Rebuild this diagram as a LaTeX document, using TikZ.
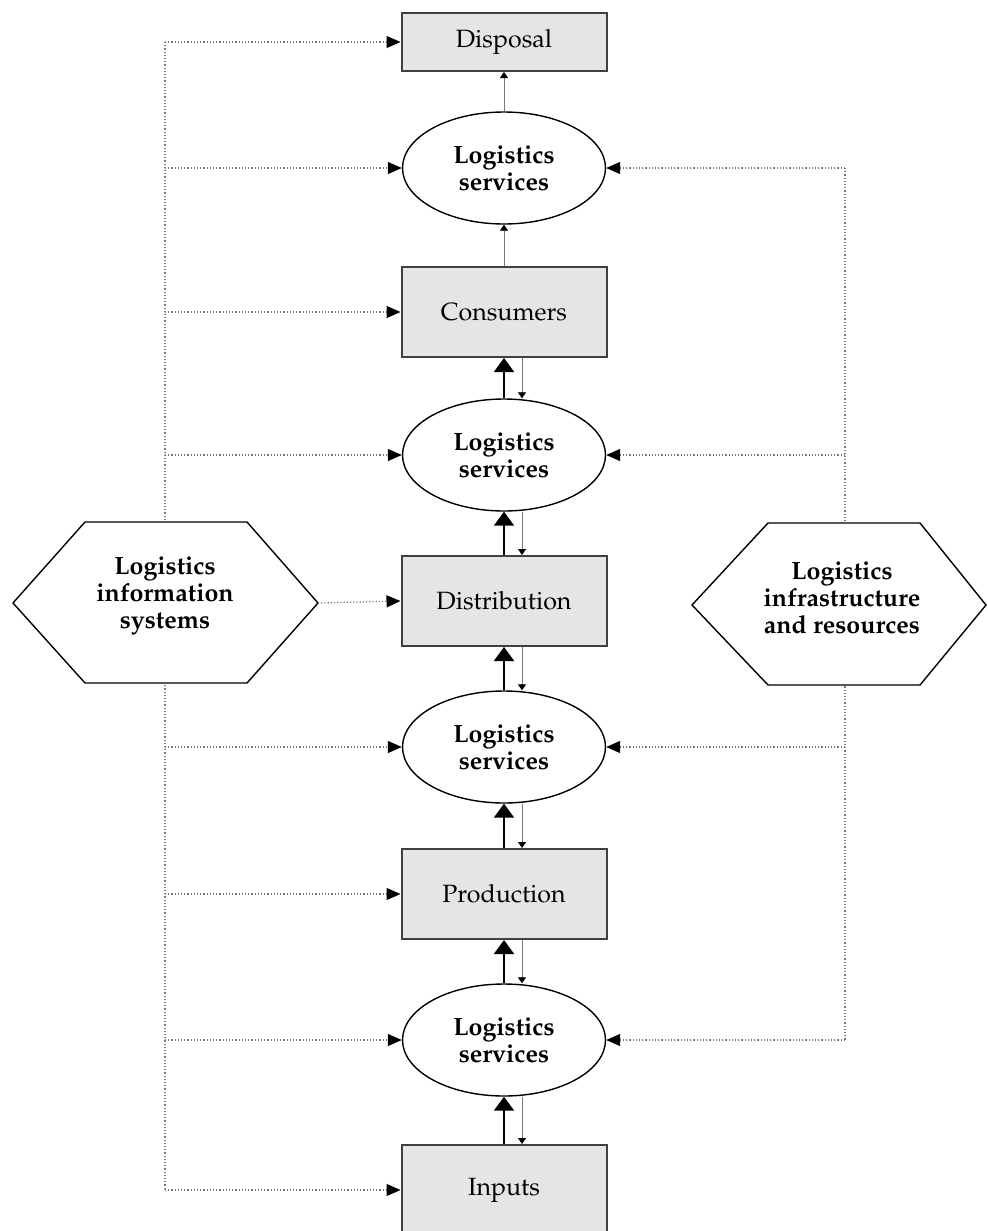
\documentclass[tikz,border=0pt]{standalone}
\usepackage[T1]{fontenc}
\renewcommand{\rmdefault}{ppl}
\usepackage{tikz}
\usetikzlibrary{shapes.geometric,arrows.meta}
\definecolor{boxgray}{RGB}{229,229,229}
\definecolor{dotgray}{RGB}{120,120,120}

\begin{document}
\begin{tikzpicture}[x=0.5pt,y=-0.5pt,
  stage/.style={draw=black!75,line width=1pt,fill=boxgray,minimum width=102.5pt,minimum height=45pt,font=\fontsize{12.5}{14}\selectfont},
  svc/.style={ellipse,draw,line width=0.7pt,fill=white,minimum width=101.5pt,minimum height=56pt,inner sep=0pt,align=center,font=\fontsize{12.5}{13.5}\selectfont\bfseries},
  hexa/.style={draw,line width=0.7pt,fill=white},
  hexatext/.style={align=center,font=\fontsize{12.5}{13.5}\selectfont\bfseries},
  link/.style={dotgray,densely dotted,line width=0.6pt,-{Triangle[color=black,length=7pt,width=6pt]}},
  flowup/.style={line width=1pt,-{Triangle[length=7pt,width=10pt]}},
  flowdown/.style={dotgray,line width=0.4pt,-{Triangle[color=black,length=3pt,width=4pt]}},
  ]
\useasboundingbox (0,0) rectangle (988,1231);

% chain of stages, bottom to top
\node[stage,minimum height=29pt] (disp) at (504,42) {Disposal};
\node[svc] (e1) at (504,168) {Logistics\\services};
\node[stage] (cons) at (504,312) {Consumers};
\node[svc] (e2) at (504,455) {Logistics\\services};
\node[stage] (dist) at (504,601) {Distribution};
\node[svc] (e3) at (504,747) {Logistics\\services};
\node[stage] (prod) at (504,894) {Production};
\node[svc] (e4) at (504,1040) {Logistics\\services};
\node[stage] (inp) at (504,1190) {Inputs};

\coordinate (IS) at (165,42);  % information spine
\coordinate (RS) at (845,168); % resources spine

\draw[dotgray,densely dotted,line width=0.6pt] (disp.west -| IS) -- (inp.west -| IS);
\draw[dotgray,densely dotted,line width=0.6pt] (e1.east -| RS) -- (e4.east -| RS);

\draw[hexa] (13,603) -- (85,522) -- (247,522) -- (318,603) coordinate (lisR) -- (247,683) -- (85,683) -- cycle;
\node[hexatext] (lis) at (165,596) {Logistics\\information\\systems};
\draw[hexa] (692,605) -- (768,523) -- (920,523) -- (986,605) -- (920,685) -- (768,685) -- cycle;
\node[hexatext] (lir) at (842,598) {Logistics\\infrastructure\\and resources};

\foreach \n in {disp,e1,cons,e2,e3,prod,e4,inp}
  \draw[link] (\n.west -| IS) -- (\n.west);
\draw[link] (lisR) -- (dist.west);
\foreach \n in {e1,e2,e3,e4}
  \draw[link] (\n.east -| RS) -- (\n.east);

\draw[flowdown] (e1.north) -- (disp.south);
\draw[flowdown] (cons.north) -- (e1.south);
\foreach \a/\b in {e2/cons,dist/e2,e3/dist,prod/e3,e4/prod,inp/e4} {
  \draw[flowup] (\a.north) -- (\b.south);
  \draw[flowdown] ([xshift=9pt]\b.south) -- ([xshift=9pt]\a.north);
}
\end{tikzpicture}
\end{document}
